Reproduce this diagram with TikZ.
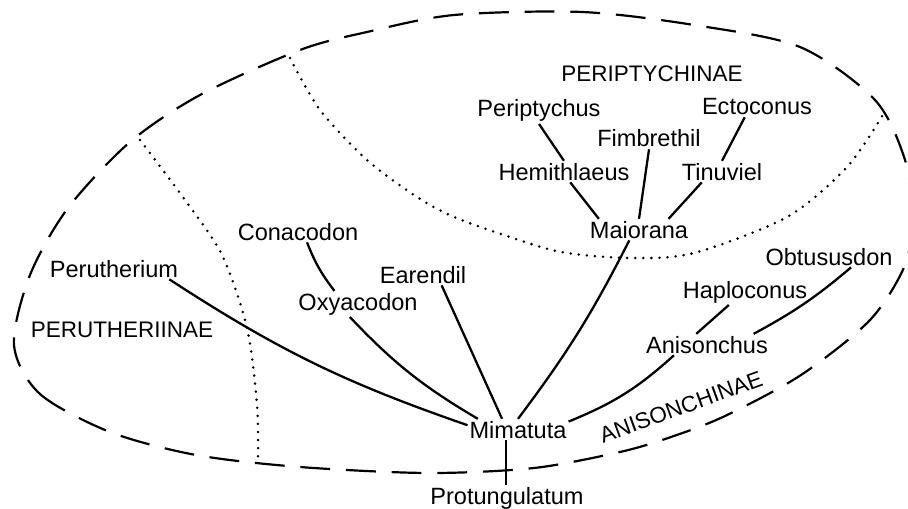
\documentclass[tikz,border=0pt]{standalone}
\usepackage{fontspec}
\setmainfont{Liberation Sans}
\usetikzlibrary{positioning}
\tikzset{
  taxon/.style={
    anchor=base,
    inner sep=1pt,
    font=\fontsize{13.4}{16}\selectfont
  },
  subfamily/.style={
    anchor=base,
    inner sep=1pt,
    font=\fontsize{12.8}{15}\selectfont
  },
  boundary/.style={
    line width=1.25pt,
    dash pattern=on 17pt off 9pt
  },
  division/.style={
    line width=1.6pt,
    line cap=round,
    dash pattern=on 0pt off 4.6pt
  },
  every edge/.style={
    draw,
    line width=1.3pt
  }
}

\begin{document}
\begin{tikzpicture}[x=0.2mm, y=-0.2mm]
  \useasboundingbox (0,0) rectangle (908,509);
  % subfamily outlines
  \draw[boundary] plot[smooth cycle] coordinates {(14,345) (40,394) (110,432) (196,455) (300,467) (428,473) (534,468) (620,452) (671,437) (725,416) (801,375) (870,320) (905,265) (912,215) (905,160) (875,100) (800,47) (694,25) (582,12) (454,15) (367,32) (300,50) (200,95) (130,142) (68,208) (30,275)};
  \draw[division] plot[smooth] coordinates {(140,140) (185,200) (222,255) (247,328) (257,405) (258,463)};
  \draw[division] plot[smooth] coordinates {(290,58) (320,110) (367,160) (417,197) (454,217) (504,235) (561,252) (630,258) (694,253) (787,217) (847,167) (884,113)};

  \node[subfamily] (periptychinae) at (652,82) {PERIPTYCHINAE};
  \node[subfamily] (perutheriinae) at (122,337) {PERUTHERIINAE};
  \node[subfamily, anchor=center, rotate=20] (anisonchinae) at (681,407) {ANISONCHINAE};

  \node[taxon] (periptychus) at (539,117) {Periptychus};
  \node[taxon] (ectoconus) at (757,115) {Ectoconus};
  \node[taxon] (fimbrethil) at (649,147) {Fimbrethil};
  \node[taxon] (hemithlaeus) at (564,180) {Hemithlaeus};
  \node[taxon] (tinuviel) at (722,180) {Tinuviel};
  \node[taxon] (maiorana) at (639,238) {Maiorana};
  \node[taxon] (conacodon) at (298,240) {Conacodon};
  \node[taxon] (perutherium) at (114,277) {Perutherium};
  \node[taxon] (earendil) at (423,283) {Earendil};
  \node[taxon] (oxyacodon) at (358,310) {Oxyacodon};
  \node[taxon] (obtususdon) at (829,265) {Obtususdon};
  \node[taxon] (haploconus) at (745,298) {Haploconus};
  \node[taxon] (anisonchus) at (707,353) {Anisonchus};
  \node[taxon] (mimatuta) at (518,438) {Mimatuta};
  \node[taxon] (protungulatum) at (507,504) {Protungulatum};

  \path (periptychus.south) edge (hemithlaeus.north)
        (hemithlaeus.-60) edge (maiorana.165)
        (fimbrethil.south) edge (maiorana.north)
        (ectoconus.-140) edge (tinuviel.north)
        (tinuviel.-152) edge (maiorana.20)
        (maiorana.-132) edge[bend left=5] (mimatuta.north)
        (conacodon.-50) edge[bend right=8] (oxyacodon.151)
        (oxyacodon.-122) edge[bend right=8] (mimatuta.165)
        (earendil.-30) edge (mimatuta.146)
        (perutherium.-11) edge[bend right=7] (mimatuta.175)
        (haploconus.-141) edge (anisonchus.135)
        (obtususdon.-26) edge[bend left=6] (anisonchus.13)
        (anisonchus.-162) edge[bend left=10] (mimatuta.9)
        (mimatuta.-138) edge (mimatuta.-138 |- protungulatum.north);
\end{tikzpicture}
\end{document}
